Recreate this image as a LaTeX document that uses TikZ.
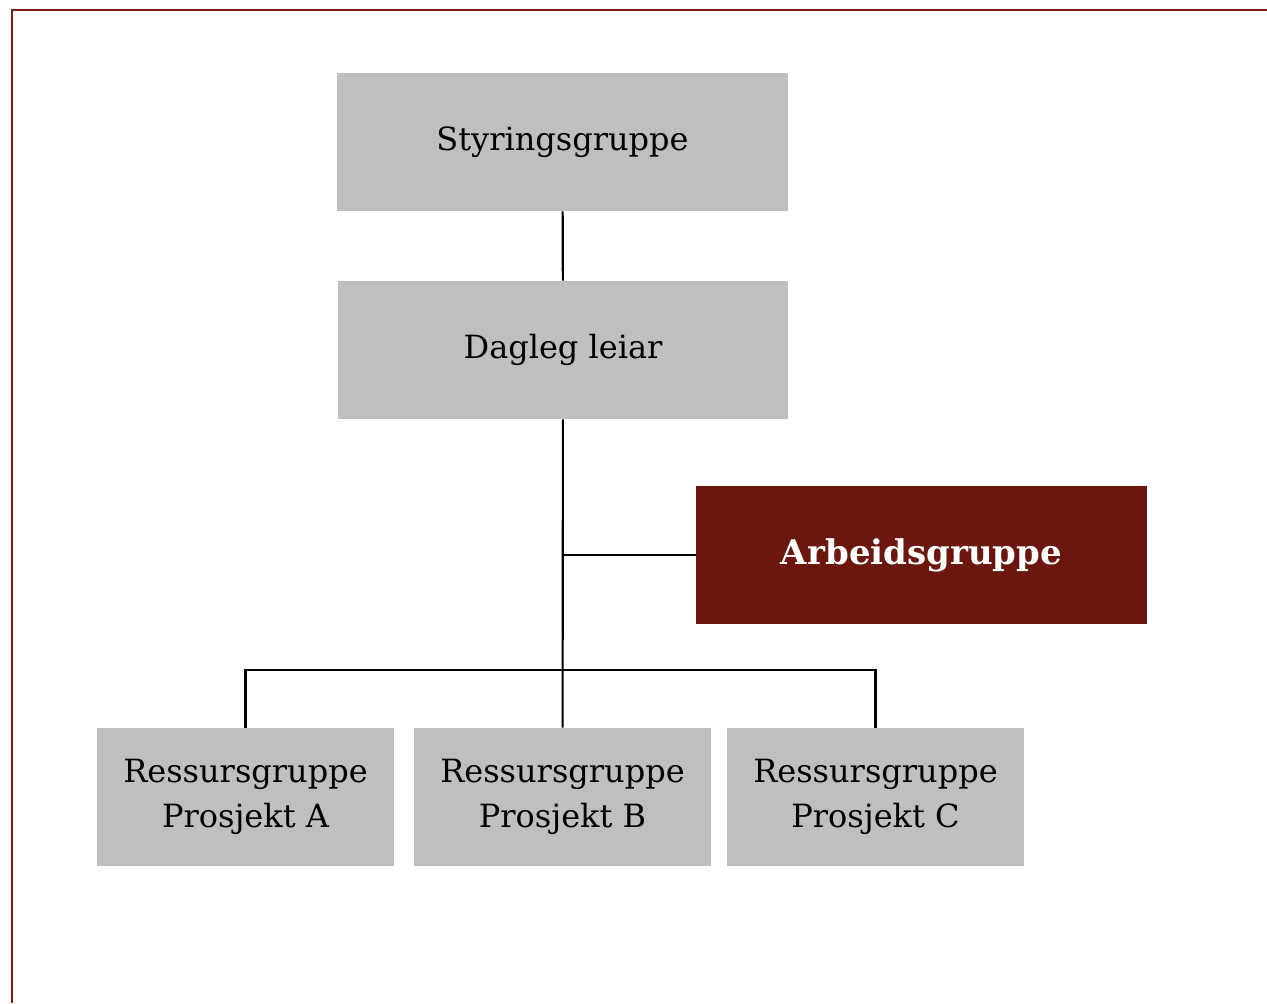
\documentclass[tikz,border=0pt]{standalone}
\usepackage{fontspec}
\setmainfont{DejaVu Serif}
\definecolor{framered}{HTML}{7A1E18}
\definecolor{boxgray}{HTML}{BFBFBF}
\definecolor{arbeidred}{HTML}{6B170E}
\begin{document}
\begin{tikzpicture}[x=0.75pt,y=-0.75pt,
  box/.style={fill=boxgray,inner sep=0pt,minimum width=338pt,minimum height=103.5pt,
    font=\fontsize{24}{34}\selectfont,align=center},
  resbox/.style={box,minimum width=222.75pt},
  link/.style={line width=1.6pt}]
\useasboundingbox (0,0) rectangle (1267,1003);
\draw[framered,line width=1.8pt] (1267,10) -- (12,10) -- (12,1003);

\node[box] (styr) at (562.5,142) {Styringsgruppe};
\node[box] (dagleg) at (563,350) {Dagleg leiar};
\node[box,fill=arbeidred,text=white,font=\fontsize{25.5}{30}\selectfont\bfseries] (arbeid) at (921.5,555) {Arbeidsgruppe};

\node[resbox] (resA) at (245.5,797) {Ressursgruppe\\Prosjekt A};
\node[resbox] (resB) at (562.5,797) {Ressursgruppe\\Prosjekt B};
\node[resbox] (resC) at (875.5,797) {Ressursgruppe\\Prosjekt C};

\coordinate (bus) at (563,670);
\draw[link] (styr) -- (dagleg);
\draw[link] (dagleg) -- (resB);
\draw[link] (arbeid.west) -- (arbeid.west -| dagleg.south);
\draw[link] (resA.north) |- (bus) -| (resC.north);
\end{tikzpicture}
\end{document}
